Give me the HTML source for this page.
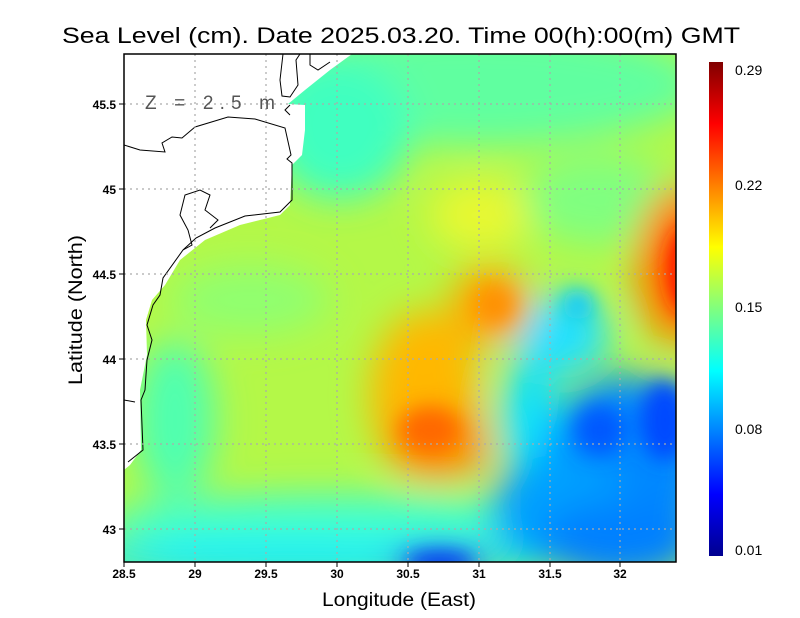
<!DOCTYPE html><html><head><style>body{margin:0;background:#fff}svg{display:block;font-family:"Liberation Sans",sans-serif}</style></head><body>
<svg width="800" height="618" viewBox="0 0 800 618">
<defs>
<filter id="b" x="-50%" y="-50%" width="200%" height="200%"><feGaussianBlur stdDeviation="18"/></filter>
<filter id="b2" x="-50%" y="-50%" width="200%" height="200%"><feGaussianBlur stdDeviation="10"/></filter>
<clipPath id="c"><rect x="124" y="54" width="552" height="508"/></clipPath>
<linearGradient id="jet" x1="0" y1="1" x2="0" y2="0">
<stop offset="0" stop-color="#00008f"/><stop offset="0.125" stop-color="#0000ff"/><stop offset="0.375" stop-color="#00ffff"/><stop offset="0.625" stop-color="#ffff00"/><stop offset="0.875" stop-color="#ff0000"/><stop offset="1" stop-color="#800000"/></linearGradient>
</defs>
<g clip-path="url(#c)">
<rect x="100" y="40" width="600" height="540" fill="#b4f848"/>
<g filter="url(#b)">
<ellipse cx="480" cy="85" rx="220" ry="60" fill="#60ffa0"/>
<ellipse cx="340" cy="130" rx="70" ry="70" fill="#40ffc0"/>
<ellipse cx="600" cy="200" rx="80" ry="45" fill="#80ff80"/>
<ellipse cx="175" cy="420" rx="40" ry="80" fill="#50ffb0"/>
<ellipse cx="250" cy="300" rx="80" ry="35" fill="#90ff70"/>
<ellipse cx="330" cy="525" rx="230" ry="30" fill="#40ffd0"/>
<ellipse cx="300" cy="562" rx="260" ry="18" fill="#00e8ff"/>
<ellipse cx="560" cy="335" rx="50" ry="40" fill="#20e0ff"/>
<ellipse cx="530" cy="420" rx="30" ry="60" fill="#10e0ff"/>
<ellipse cx="625" cy="470" rx="80" ry="95" fill="#0088ff"/>
<ellipse cx="560" cy="510" rx="70" ry="55" fill="#00a0ff"/>
<ellipse cx="620" cy="540" rx="80" ry="40" fill="#0080ff"/>
<ellipse cx="440" cy="565" rx="50" ry="16" fill="#0040ff"/>
<ellipse cx="425" cy="395" rx="55" ry="85" fill="#ffb800"/>
<ellipse cx="490" cy="305" rx="40" ry="40" fill="#ffa800"/>
<ellipse cx="440" cy="445" rx="50" ry="35" fill="#ff9000"/>
<ellipse cx="480" cy="215" rx="50" ry="35" fill="#e8f830"/>
<ellipse cx="680" cy="265" rx="45" ry="80" fill="#ff8000"/>
</g>
<g filter="url(#b2)">
<ellipse cx="430" cy="430" rx="30" ry="22" fill="#ff6800"/>
<ellipse cx="495" cy="305" rx="20" ry="20" fill="#ff9000"/>
<ellipse cx="688" cy="270" rx="22" ry="45" fill="#ff1800"/>
<ellipse cx="578" cy="305" rx="15" ry="15" fill="#10c8ff"/>
<ellipse cx="600" cy="430" rx="25" ry="25" fill="#0058ff"/>
<ellipse cx="665" cy="420" rx="25" ry="40" fill="#0048ff"/>
<ellipse cx="440" cy="562" rx="35" ry="10" fill="#0030f0"/>
</g>
<path d="M124,54 L352,54 L330,70 L305,90 L288,104 L305,105 L305,130 L302,155 L292,165 L290,205 L280,215 L240,225 L205,240 L180,260 L165,285 L152,300 L146,320 L147,355 L140,390 L141,450 L130,465 L124,470 Z" fill="#fff"/>
<g fill="none" stroke="#000" stroke-width="1">
<path d="M124,145 L140,150 L165,152 L162,143 L172,137 L182,138 L195,127 L228,117 L255,119 L285,128 L291,155 L287,159 L292,163 L292,200 L280,212 L245,216 L215,228 L196,238 L183,250 L163,278 L160,295 L153,305 L147,325 L152,340 L147,360 L145,390 L141,400 L143,450 L128,462"/>
<path d="M183,250 L192,245 L188,230 L180,215 L185,195 L200,190 L210,195 L205,210 L218,220 L210,228"/>
<path d="M124,400 L135,402"/>
<path d="M283,54 L280,80 L282,96 L290,97 L298,85 L296,60 L300,54"/>
<path d="M310,54 L310,65 L318,70 L330,62"/>
<path d="M290,105 L285,110 L290,115"/>
</g>
</g>
<g stroke="#aaa" stroke-width="1.2" stroke-dasharray="2,4">
<path d="M195,54V562M266,54V562M337,54V562M408,54V562M479,54V562M550,54V562M620,54V562"/>
<path d="M124,104H676M124,189H676M124,274H676M124,359H676M124,444H676M124,529H676"/>
</g>
<rect x="124" y="54" width="552" height="508" fill="none" stroke="#000" stroke-width="1.5"/>
<g stroke="#000"><path d="M124,562v5M195,562v5M266,562v5M337,562v5M408,562v5M479,562v5M550,562v5M620,562v5M119,104h5M119,189h5M119,274h5M119,359h5M119,444h5M119,529h5"/></g>
<text x="145" y="109" font-size="19" fill="#555" textLength="130">Z = 2.5 m</text>
<g font-size="12" text-anchor="middle" fill="#000" font-weight="bold">
<text x="124" y="578">28.5</text><text x="195" y="578">29</text><text x="266" y="578">29.5</text><text x="337" y="578">30</text><text x="408" y="578">30.5</text><text x="479" y="578">31</text><text x="550" y="578">31.5</text><text x="620" y="578">32</text>
</g>
<g font-size="12" text-anchor="end" fill="#000" font-weight="bold">
<text x="116" y="109">45.5</text><text x="116" y="194">45</text><text x="116" y="279">44.5</text><text x="116" y="364">44</text><text x="116" y="449">43.5</text><text x="116" y="534">43</text>
</g>
<text x="62" y="43" font-size="22" textLength="678" lengthAdjust="spacingAndGlyphs">Sea Level (cm). Date 2025.03.20. Time 00(h):00(m) GMT</text>
<text x="322" y="606" font-size="19" textLength="154" lengthAdjust="spacingAndGlyphs">Longitude (East)</text>
<text transform="translate(82,385) rotate(-90)" font-size="19" textLength="150" lengthAdjust="spacingAndGlyphs">Latitude (North)</text>
<rect x="709" y="62" width="14" height="494" fill="url(#jet)"/>
<g font-size="14"><text x="735" y="75">0.29</text><text x="735" y="190">0.22</text><text x="735" y="312">0.15</text><text x="735" y="434">0.08</text><text x="735" y="555">0.01</text></g>
</svg>
</body></html>
